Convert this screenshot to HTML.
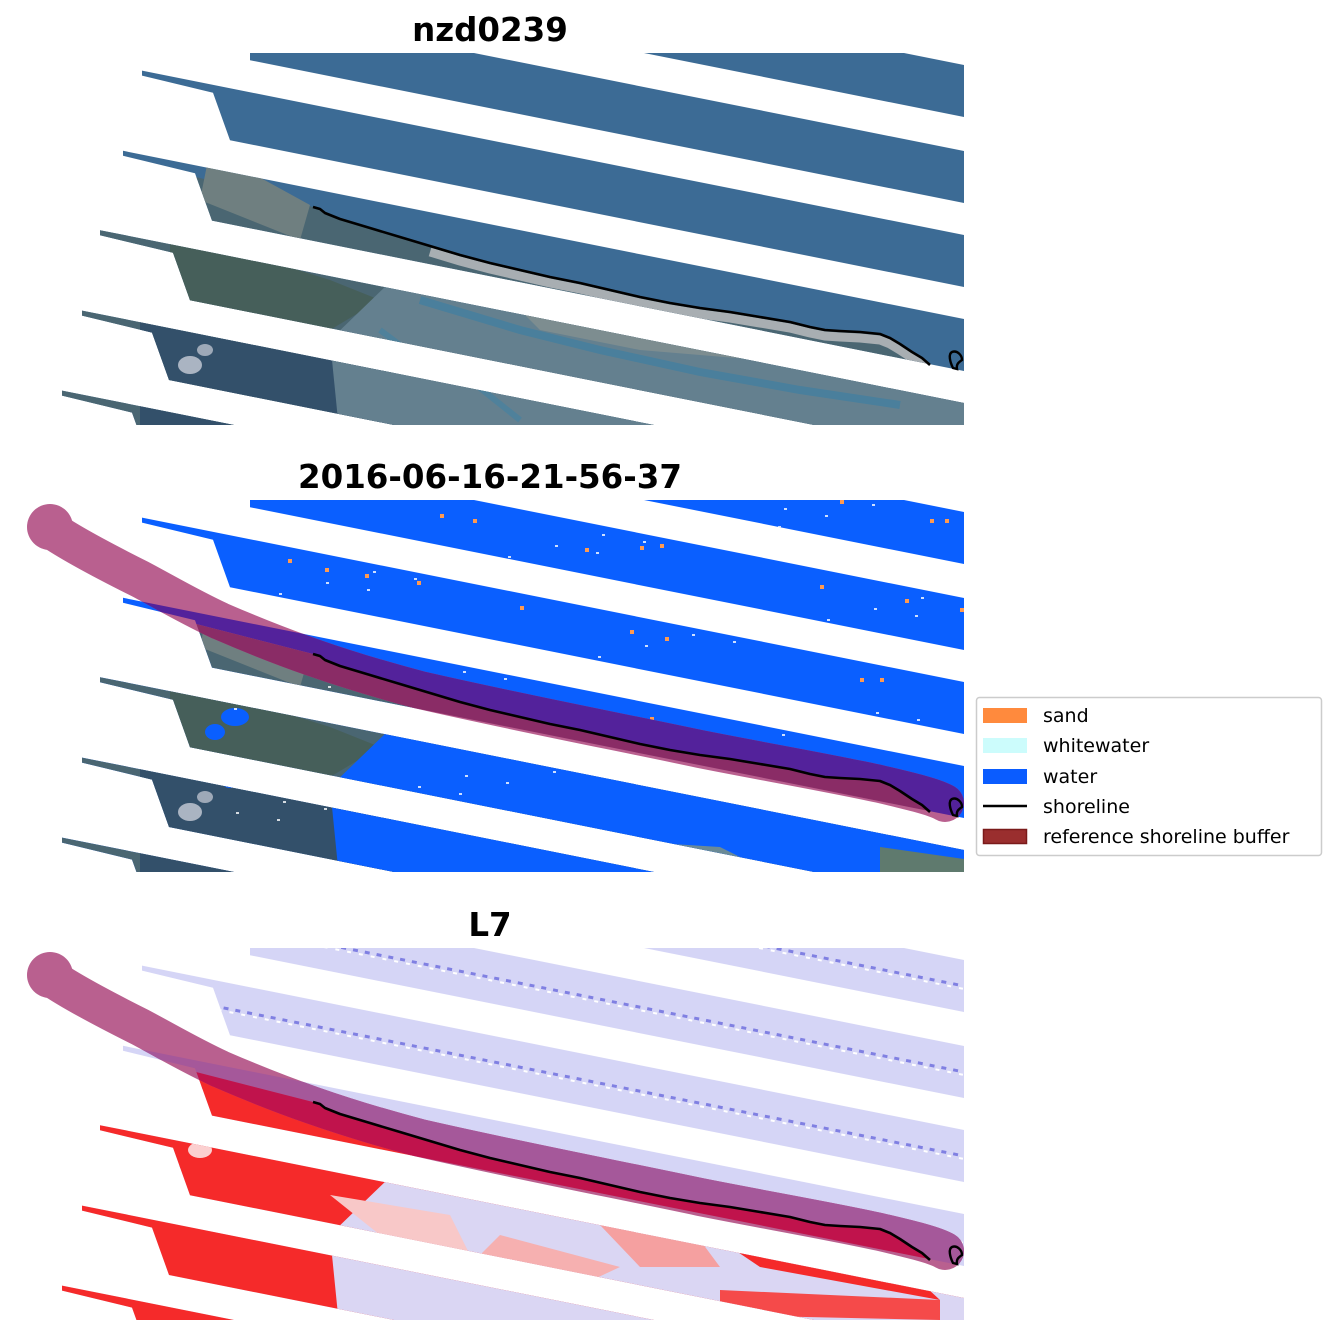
<!DOCTYPE html>
<html><head><meta charset="utf-8">
<style>
html,body{margin:0;padding:0;background:#fff;width:1336px;height:1337px;overflow:hidden;}
svg{display:block;}
.t{font-family:"DejaVu Sans","Liberation Sans",sans-serif;font-weight:bold;font-size:32.5px;text-anchor:middle;}
.l{font-family:"DejaVu Sans","Liberation Sans",sans-serif;font-size:19px;}
</style></head>
<body>
<svg id="s" width="1336" height="1337" viewBox="0 0 1336 1337" xmlns="http://www.w3.org/2000/svg">
<defs id="d"></defs>
<g id="p"></g>
<text class="t" x="490" y="41">nzd0239</text>
<text class="t" x="490" y="488">2016-06-16-21-56-37</text>
<text class="t" x="490" y="936">L7</text>
<rect x="976.5" y="697.5" width="345" height="158" rx="3" fill="#fff" stroke="#cccccc" stroke-width="1.5"/>
<rect x="983" y="708" width="44" height="15" fill="#ff8a3d"/>
<rect x="983" y="738" width="44" height="15" fill="#ccfcfc"/>
<rect x="983" y="769" width="44" height="15" fill="#0a5cff"/>
<line x1="983" y1="806" x2="1027" y2="806" stroke="#000" stroke-width="2.5"/>
<rect x="983.5" y="829.5" width="43" height="14" fill="#9a2e2e" stroke="#7a1a1a" stroke-width="1.5"/>
<text class="l" x="1043" y="722">sand</text>
<text class="l" x="1043" y="752">whitewater</text>
<text class="l" x="1043" y="783">water</text>
<text class="l" x="1043" y="813">shoreline</text>
<text class="l" x="1043" y="843">reference shoreline buffer</text>
</svg>
<script>
var NS="http://www.w3.org/2000/svg";
var bands=[{b:117,tip:560,main:560},{b:203,tip:250,main:250},{b:287,tip:142,main:213},{b:371,tip:123,main:195},{b:455,tip:100,main:173},{b:539,tip:82,main:152},{b:623,tip:62,main:132}];
function bb(B,x){return B-0.2*(964-x);}
function pts(a){return a.map(function(p){return p[0]+","+p[1];}).join(" ");}
function bandPoly(k){var d=bands[k],B=d.b,T=B-52;
 if(d.tip==d.main){return [[d.tip,bb(T,d.tip)],[964,T],[964,B],[d.tip,bb(B,d.tip)]];}
 return [[d.tip,bb(T,d.tip)],[964,T],[964,B],[d.main+17,bb(B,d.main+17)],[d.main,bb(T,d.main)+8],[d.tip,bb(T,d.tip)+5]];}
var S=[[313,207],[320,209],[325,213],[340,219],[370,228],[400,237],[430,246],[460,255],[490,263],[520,270],[550,277],[580,283],[610,290],[640,297],[670,303],[700,308],[730,312],[760,317],[790,322],[810,327],[825,330],[840,331],[860,332],[880,334],[890,338],[900,344],[912,352],[922,358],[930,365]];
var coast=[[0,130],[200,178]].concat(S).concat([[964,372]]);
var landP=coast.concat([[964,440],[0,440]]);
var seaP=coast.concat([[964,0],[0,0]]);
var lagoon=[[390,282],[520,300],[640,322],[800,352],[900,375],[964,392],[964,440],[340,440],[330,340]];
var buf="M50,82 C70,96 100,112 140,132 C170,148 190,160 220,174 C280,200 340,222 420,243 C520,266 620,285 700,302 C760,314 830,326 880,337 C910,344 935,350 945,356";
var loop="M952,352 C948,354 950,362 953,368 L957,369 C956,364 959,362 962,360 C962,355 957,350 952,352 Z";
var defs=document.getElementById("d"),P=document.getElementById("p");
function el(t,a,par){var e=document.createElementNS(NS,t);for(var k in a)e.setAttribute(k,a[k]);(par||P).appendChild(e);return e;}
var cb=el("clipPath",{id:"cb"},defs);for(var k=0;k<bands.length;k++)el("polygon",{points:pts(bandPoly(k))},cb);
var cr=el("clipPath",{id:"cr"},defs);el("rect",{x:0,y:53,width:964,height:372},cr);
var cs=el("clipPath",{id:"cs"},defs);el("polygon",{points:pts(seaP)},cs);
var cl=el("clipPath",{id:"cl"},defs);el("polygon",{points:pts(landP)},cl);
function landImage(g,blue){
 el("polygon",{points:pts(landP),fill:"#4a6672"},g);
 el("polygon",{points:"210,150 310,205 300,240 200,200",fill:"#6f7f80"},g);
 el("polygon",{points:"170,230 330,280 380,300 330,330 170,300",fill:"#465f5a"},g);
 el("polygon",{points:"140,300 380,350 420,430 140,430",fill:"#33506a"},g);
 el("ellipse",{cx:190,cy:365,rx:12,ry:9,fill:"#aab4c2"},g);
 el("ellipse",{cx:205,cy:350,rx:8,ry:6,fill:"#9ea9b8"},g);
 el("polygon",{points:"600,300 800,340 860,360 700,345 560,315",fill:"#587a66"},g);
 el("polygon",{points:"820,400 940,410 940,430 820,430",fill:"#4c6c56"},g);
 if(blue){el("polygon",{points:pts(lagoon),fill:"#0a5fff"},g);
  el("polygon",{points:"640,395 720,400 760,420 700,425 640,412",fill:"#6b8a96"},g);
  el("polygon",{points:"880,400 964,412 964,430 880,430",fill:"#5f7a6e"},g);
  el("ellipse",{cx:235,cy:270,rx:14,ry:9,fill:"#0a5fff"},g);
  el("ellipse",{cx:215,cy:285,rx:10,ry:8,fill:"#0a5fff"},g);
  el("ellipse",{cx:230,cy:335,rx:8,ry:6,fill:"#0a5fff"},g);
 } else {
  el("polygon",{points:pts(lagoon),fill:"#64808f"},g);
  el("polyline",{points:"420,300 520,330 600,350 700,372 800,390 900,405",fill:"none",stroke:"#4a7f9c","stroke-width":8},g);
  el("polyline",{points:"380,330 420,360 470,380 520,420",fill:"none",stroke:"#4f819b","stroke-width":6},g);
  el("polygon",{points:"520,310 700,340 760,360 640,350 540,330",fill:"#7d8d90"},g);
 }
}
function beach(g,c){var b=S.filter(function(p){return p[0]>=430;}).map(function(p){return [p[0],p[1]+6];});
 el("polyline",{points:pts(b),fill:"none",stroke:c,"stroke-width":9},g);}
function shore(g){el("polyline",{points:pts(S),fill:"none",stroke:"#000","stroke-width":2.6,"stroke-linejoin":"round"},g);
 el("path",{d:loop,fill:"none",stroke:"#000","stroke-width":2.4},g);}
function panel(n,oy){
 var G=el("g",{transform:"translate(0,"+oy+")"});
 var g1=el("g",{"clip-path":"url(#cr)"},G);
 var g=el("g",{"clip-path":"url(#cb)"},g1);
 if(n==1){
  el("rect",{x:0,y:0,width:964,height:440,fill:"#3c6b95"},g);
  landImage(g,false);beach(g,"#a8aeb2");
 } else if(n==2){
  el("rect",{x:0,y:0,width:964,height:440,fill:"#0a5fff"},g);
  landImage(g,true);beach(g,"#8a969c");
  var dots=[[440,67],[473,72],[325,121],[365,127],[417,134],[288,112],[585,101],[640,99],[660,97],[840,53],[930,72],[945,72],[820,138],[905,152],[960,161],[630,183],[665,190],[520,159],[860,231],[880,231],[650,270],[590,262]];
  dots.forEach(function(d){el("rect",{x:d[0],y:d[1],width:4,height:4,fill:"#ff9a50"},g);});
  for(var i=0;i<60;i++){var x=230+((i*137)%730),y0=53+((i*89)%330);el("rect",{x:x,y:y0,width:3,height:2,fill:"#fff",opacity:0.8},g);}
 } else {
  el("rect",{x:0,y:0,width:964,height:440,fill:"#d5d5f6"},g);
  for(var k=0;k<bands.length;k++){var B=bands[k].b-26;el("line",{x1:0,y1:bb(B,0),x2:964,y2:B,stroke:"#8080e2","stroke-width":3,"stroke-dasharray":"5 7"},g);
   el("line",{x1:0,y1:bb(B,0)+3,x2:964,y2:B+3,stroke:"#ffffff","stroke-width":2,"stroke-dasharray":"4 8","stroke-dashoffset":6},g);}
  el("polygon",{points:pts(landP),fill:"#f52a2a"},g);
  el("polygon",{points:pts(lagoon),fill:"#dad6f3"},g);
  el("polygon",{points:"600,330 700,345 720,372 640,372",fill:"#f5a0a0"},g);
  el("polygon",{points:"720,345 900,368 940,405 760,372",fill:"#f52a2a"},g);
  el("polygon",{points:"720,395 940,405 940,425 720,420",fill:"#f54a4a"},g);
  el("polygon",{points:"500,340 620,372 560,400 470,370",fill:"#f6b0b0"},g);
  el("polygon",{points:"330,300 450,320 470,360 380,340",fill:"#f8c8c8"},g);
  el("ellipse",{cx:200,cy:255,rx:12,ry:8,fill:"#fbd0d0"},g);
  el("ellipse",{cx:240,cy:320,rx:14,ry:7,fill:"#f88"},g);
 }
 if(n>1){
  el("path",{d:buf,fill:"none",stroke:"#b9608f","stroke-width":38,"stroke-linecap":"round"},G);
  el("circle",{cx:50,cy:80,r:23,fill:"#b9608f"},G);
  var gs=el("g",{"clip-path":"url(#cs)"},el("g",{"clip-path":"url(#cb)"},el("g",{"clip-path":"url(#cr)"},G)));
  el("path",{d:buf,fill:"none",stroke:n==2?"#53229b":"#a5589a","stroke-width":38,"stroke-linecap":"round"},gs);
  var gl=el("g",{"clip-path":"url(#cl)"},el("g",{"clip-path":"url(#cb)"},el("g",{"clip-path":"url(#cr)"},G)));
  el("path",{d:buf,fill:"none",stroke:n==2?"#8a2c66":"#c0134c","stroke-width":38,"stroke-linecap":"round"},gl);
 }
 shore(G);
}
panel(1,0);panel(2,447);panel(3,895);
</script>
</body></html>
